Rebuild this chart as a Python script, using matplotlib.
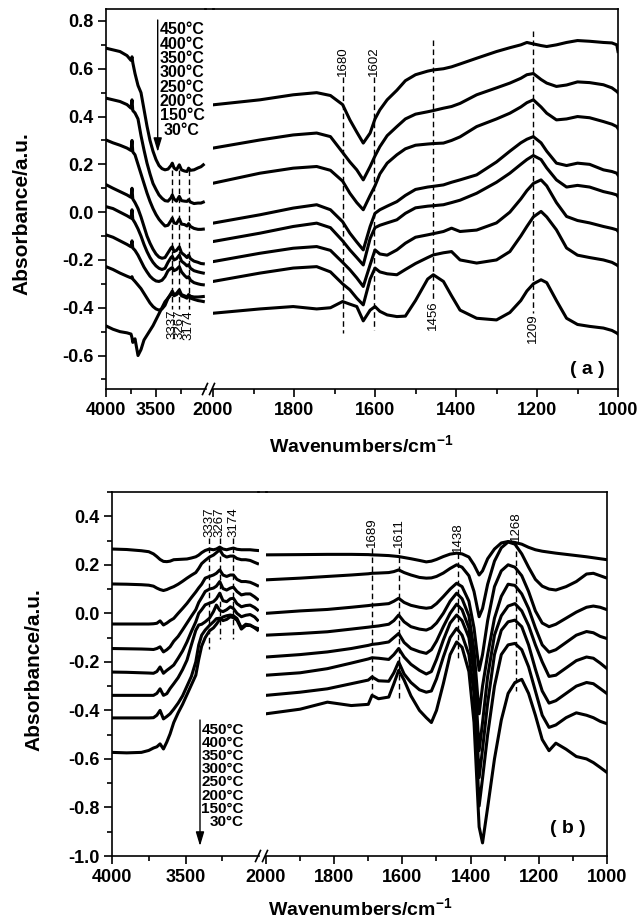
import matplotlib
matplotlib.use('Agg')
from matplotlib import pyplot as plt
from matplotlib.lines import Line2D
from matplotlib.patches import FancyArrowPatch
from matplotlib.ticker import MultipleLocator, FixedLocator, FormatStrFormatter

plt.rcParams['font.family'] = ['Liberation Sans', 'DejaVu Sans']
plt.rcParams['font.weight'] = 'bold'
plt.rcParams['axes.unicode_minus'] = False
plt.rcParams['mathtext.fontset'] = 'custom'
plt.rcParams['mathtext.rm'] = 'Liberation Sans:bold'
plt.rcParams['mathtext.default'] = 'rm'

temps = ['450', '400', '350', '300', '250', '200', '150', '30']

# ---------------- panel (a) ----------------
a_hi_wn = [4000, 3930, 3860, 3790, 3750, 3740, 3732, 3710, 3680, 3650, 3620, 3590, 3560,
           3530, 3500, 3470, 3440, 3410, 3380, 3350, 3337, 3320, 3295, 3267, 3245, 3215,
           3190, 3174, 3155, 3120, 3080, 3050, 3027]
a_hi = [
    [0.686, 0.679, 0.672, 0.655, 0.635, 0.650, 0.625, 0.58, 0.53, 0.50, 0.43, 0.36, 0.30,
     0.255, 0.22, 0.195, 0.182, 0.177, 0.180, 0.195, 0.205, 0.185, 0.177, 0.198, 0.177, 0.172,
     0.170, 0.184, 0.175, 0.177, 0.185, 0.19, 0.198],
    [0.477, 0.470, 0.463, 0.450, 0.435, 0.470, 0.425, 0.415, 0.39, 0.32, 0.26, 0.205, 0.16,
     0.12, 0.095, 0.072, 0.058, 0.048, 0.046, 0.06, 0.072, 0.055, 0.046, 0.066, 0.048, 0.046,
     0.045, 0.052, 0.042, 0.036, 0.038, 0.038, 0.042],
    [0.302, 0.29, 0.28, 0.268, 0.258, 0.30, 0.252, 0.24, 0.20, 0.16, 0.12, 0.08, 0.045,
     0.015, -0.01, -0.03, -0.045, -0.058, -0.055, -0.035, -0.025, -0.045, -0.048, -0.028, -0.05, -0.052,
     -0.058, -0.048, -0.06, -0.068, -0.072, -0.072, -0.071],
    [0.115, 0.10, 0.086, 0.072, 0.062, 0.10, 0.055, 0.04, 0.015, -0.02, -0.06, -0.10, -0.13,
     -0.155, -0.175, -0.188, -0.193, -0.19, -0.17, -0.15, -0.145, -0.165, -0.16, -0.145, -0.17, -0.18,
     -0.19, -0.18, -0.195, -0.205, -0.21, -0.215, -0.216],
    [0.023, 0.015, 0.0, -0.015, -0.025, 0.01, -0.03, -0.045, -0.07, -0.10, -0.135, -0.165, -0.19,
     -0.21, -0.225, -0.235, -0.24, -0.235, -0.21, -0.19, -0.185, -0.2, -0.195, -0.18, -0.205, -0.215,
     -0.225, -0.22, -0.235, -0.245, -0.25, -0.253, -0.255],
    [-0.095, -0.105, -0.12, -0.135, -0.145, -0.12, -0.15, -0.16, -0.18, -0.205, -0.23, -0.25, -0.268,
     -0.28, -0.288, -0.29, -0.285, -0.27, -0.245, -0.235, -0.232, -0.245, -0.24, -0.228, -0.25, -0.265,
     -0.275, -0.27, -0.285, -0.295, -0.30, -0.303, -0.304],
    [-0.228, -0.24, -0.255, -0.268, -0.275, -0.27, -0.28, -0.29, -0.305, -0.32, -0.34, -0.36, -0.38,
     -0.395, -0.405, -0.41, -0.405, -0.39, -0.36, -0.34, -0.33, -0.345, -0.34, -0.325, -0.345, -0.35,
     -0.355, -0.345, -0.352, -0.355, -0.355, -0.354, -0.353],
    [-0.476, -0.49, -0.50, -0.505, -0.51, -0.525, -0.545, -0.53, -0.60, -0.575, -0.535, -0.515, -0.495,
     -0.475, -0.45, -0.425, -0.40, -0.375, -0.36, -0.345, -0.34, -0.35, -0.345, -0.335, -0.35, -0.355,
     -0.36, -0.35, -0.36, -0.365, -0.37, -0.372, -0.374],
]

a_lo_wn = [2000, 1884, 1802, 1744, 1710, 1680, 1662, 1645, 1629, 1612, 1600, 1588, 1570,
           1546, 1525, 1500, 1470, 1456, 1431, 1411, 1390, 1349, 1300, 1267, 1240, 1225,
           1209, 1190, 1176, 1152, 1127, 1100, 1070, 1036, 1015, 1003, 1000]
a_lo = [
    [0.449, 0.47, 0.491, 0.50, 0.488, 0.45, 0.386, 0.335, 0.289, 0.331, 0.39, 0.428, 0.47,
     0.51, 0.55, 0.575, 0.59, 0.595, 0.60, 0.608, 0.62, 0.644, 0.672, 0.688, 0.70, 0.71,
     0.704, 0.697, 0.693, 0.70, 0.71, 0.718, 0.715, 0.71, 0.708, 0.70, 0.672],
    [0.268, 0.302, 0.323, 0.331, 0.316, 0.25, 0.21, 0.177, 0.135, 0.191, 0.235, 0.274, 0.32,
     0.358, 0.39, 0.41, 0.42, 0.425, 0.435, 0.442, 0.455, 0.491, 0.52, 0.54, 0.56, 0.575,
     0.58, 0.555, 0.54, 0.526, 0.532, 0.545, 0.542, 0.533, 0.52, 0.505, 0.50],
    [0.121, 0.163, 0.184, 0.191, 0.175, 0.13, 0.079, 0.04, 0.010, 0.07, 0.11, 0.16, 0.205,
     0.24, 0.265, 0.28, 0.285, 0.287, 0.289, 0.30, 0.315, 0.358, 0.39, 0.414, 0.44, 0.458,
     0.47, 0.44, 0.414, 0.386, 0.39, 0.40, 0.395, 0.379, 0.368, 0.358, 0.35],
    [-0.046, -0.011, 0.017, 0.031, 0.01, -0.04, -0.088, -0.125, -0.158, -0.06, -0.005, 0.01, 0.025,
     0.044, 0.07, 0.095, 0.105, 0.108, 0.114, 0.125, 0.135, 0.156, 0.21, 0.255, 0.29, 0.305,
     0.316, 0.29, 0.255, 0.205, 0.195, 0.205, 0.20, 0.177, 0.17, 0.163, 0.155],
    [-0.123, -0.088, -0.060, -0.046, -0.065, -0.12, -0.158, -0.19, -0.221, -0.11, -0.065, -0.055, -0.045,
     -0.032, -0.005, 0.018, 0.025, 0.027, 0.031, 0.04, 0.05, 0.079, 0.125, 0.163, 0.20, 0.22,
     0.237, 0.22, 0.185, 0.135, 0.105, 0.112, 0.105, 0.086, 0.078, 0.072, 0.065],
    [-0.207, -0.172, -0.151, -0.144, -0.16, -0.21, -0.241, -0.275, -0.311, -0.22, -0.158, -0.175, -0.18,
     -0.158, -0.13, -0.105, -0.095, -0.09, -0.081, -0.067, -0.081, -0.075, -0.045, 0.0, 0.055, 0.09,
     0.12, 0.135, 0.11, 0.04, -0.018, -0.035, -0.045, -0.06, -0.068, -0.074, -0.08],
    [-0.290, -0.255, -0.234, -0.228, -0.25, -0.30, -0.325, -0.36, -0.388, -0.28, -0.234, -0.25, -0.258,
     -0.262, -0.24, -0.215, -0.19, -0.179, -0.17, -0.165, -0.2, -0.213, -0.2, -0.165, -0.10, -0.06,
     -0.02, 0.003, -0.02, -0.074, -0.15, -0.18, -0.19, -0.20, -0.21, -0.221, -0.225],
    [-0.423, -0.405, -0.395, -0.405, -0.40, -0.374, -0.385, -0.395, -0.455, -0.41, -0.395, -0.415, -0.43,
     -0.437, -0.435, -0.37, -0.28, -0.262, -0.29, -0.35, -0.41, -0.444, -0.451, -0.42, -0.37, -0.33,
     -0.30, -0.283, -0.295, -0.37, -0.444, -0.47, -0.478, -0.485, -0.495, -0.506, -0.51],
]

# ---------------- panel (b) ----------------
b_hi_wn = [4000, 3900, 3800, 3750, 3718, 3695, 3673, 3650, 3627, 3605, 3580, 3550, 3520,
           3490, 3460, 3430, 3410, 3390, 3366, 3337, 3310, 3290, 3267, 3245, 3220, 3195,
           3174, 3150, 3120, 3090, 3060, 3030, 3010]
b_hi = [
    [0.265, 0.263, 0.258, 0.254, 0.245, 0.234, 0.222, 0.214, 0.213, 0.215, 0.221, 0.222, 0.223,
     0.224, 0.228, 0.233, 0.24, 0.25, 0.259, 0.265, 0.262, 0.265, 0.273, 0.265, 0.262, 0.266,
     0.269, 0.264, 0.262, 0.262, 0.262, 0.26, 0.259],
    [0.121, 0.12, 0.118, 0.116, 0.112, 0.104, 0.098, 0.094, 0.098, 0.104, 0.110, 0.12, 0.132,
     0.145, 0.157, 0.168, 0.185, 0.205, 0.218, 0.232, 0.24, 0.25, 0.262, 0.24, 0.232, 0.236,
     0.236, 0.226, 0.221, 0.221, 0.218, 0.21, 0.205],
    [-0.044, -0.044, -0.044, -0.044, -0.043, -0.041, -0.031, -0.048, -0.04, -0.03, -0.021, 0.0, 0.02,
     0.041, 0.065, 0.088, 0.105, 0.12, 0.145, 0.152, 0.158, 0.165, 0.179, 0.158, 0.152, 0.158,
     0.158, 0.14, 0.131, 0.131, 0.128, 0.12, 0.114],
    [-0.145, -0.146, -0.147, -0.148, -0.149, -0.145, -0.138, -0.159, -0.15, -0.138, -0.115, -0.095, -0.068,
     -0.04, -0.012, 0.015, 0.045, 0.065, 0.09, 0.10, 0.104, 0.112, 0.131, 0.102, 0.096, 0.104,
     0.108, 0.09, 0.076, 0.08, 0.08, 0.068, 0.058],
    [-0.242, -0.243, -0.245, -0.246, -0.247, -0.24, -0.221, -0.247, -0.235, -0.225, -0.213, -0.185, -0.155,
     -0.118, -0.075, -0.035, 0.0, 0.015, 0.035, 0.042, 0.048, 0.06, 0.083, 0.052, 0.048, 0.06,
     0.062, 0.04, 0.027, 0.032, 0.034, 0.024, 0.014],
    [-0.338, -0.338, -0.338, -0.338, -0.338, -0.33, -0.311, -0.338, -0.331, -0.31, -0.29, -0.265, -0.232,
     -0.193, -0.13, -0.07, -0.048, -0.045, -0.035, -0.02, 0.007, 0.034, 0.012, 0.007, 0.015, 0.027,
     0.02, 0.0, -0.014, -0.008, -0.005, -0.015, -0.028],
    [-0.431, -0.431, -0.431, -0.431, -0.43, -0.42, -0.40, -0.435, -0.425, -0.414, -0.395, -0.37, -0.34,
     -0.30, -0.26, -0.20, -0.13, -0.09, -0.069, -0.05, -0.035, -0.022, -0.02, -0.03, -0.025, -0.014,
     -0.018, -0.028, -0.065, -0.05, -0.05, -0.058, -0.062],
    [-0.573, -0.575, -0.573, -0.565, -0.555, -0.55, -0.538, -0.559, -0.53, -0.497, -0.45, -0.41, -0.375,
     -0.335, -0.295, -0.255, -0.19, -0.135, -0.10, -0.072, -0.06, -0.045, -0.025, -0.015, -0.01, -0.007,
     -0.01, -0.021, -0.06, -0.045, -0.048, -0.06, -0.069],
]

b_lo_wn = [2000, 1900, 1820, 1750, 1700, 1689, 1670, 1640, 1625, 1611, 1595, 1575, 1550, 1530,
           1515, 1500, 1480, 1460, 1441, 1425, 1405, 1390, 1375, 1365, 1350, 1330, 1310, 1290,
           1270, 1250, 1230, 1210, 1190, 1170, 1150, 1120, 1090, 1060, 1040, 1020, 1000]
b_lo = [
    [0.241, 0.242, 0.243, 0.243, 0.242, 0.241, 0.240, 0.238, 0.236, 0.234, 0.23, 0.225, 0.218, 0.212,
     0.215, 0.222, 0.234, 0.244, 0.248, 0.245, 0.232, 0.20, 0.158, 0.175, 0.225, 0.265, 0.29, 0.296,
     0.292, 0.285, 0.272, 0.262, 0.256, 0.252, 0.248, 0.243, 0.238, 0.233, 0.229, 0.225, 0.221],
    [0.138, 0.145, 0.152, 0.158, 0.163, 0.165, 0.166, 0.168, 0.172, 0.179, 0.168, 0.158, 0.148, 0.145,
     0.146, 0.152, 0.166, 0.185, 0.20, 0.19, 0.155, 0.09, -0.014, 0.02, 0.12, 0.215, 0.27, 0.294,
     0.285, 0.245, 0.19, 0.14, 0.112, 0.10, 0.096, 0.11, 0.131, 0.162, 0.165, 0.155, 0.145],
    [0.0, 0.01, 0.016, 0.025, 0.032, 0.034, 0.036, 0.04, 0.05, 0.062, 0.045, 0.033, 0.025, 0.021,
     0.024, 0.04, 0.069, 0.10, 0.124, 0.11, 0.05, -0.06, -0.235, -0.17, -0.03, 0.11, 0.175, 0.20,
     0.19, 0.155, 0.09, 0.01, -0.04, -0.055, -0.045, -0.02, 0.005, 0.025, 0.03, 0.025, 0.015],
    [-0.090, -0.083, -0.076, -0.065, -0.057, -0.055, -0.052, -0.045, -0.03, -0.007, -0.035, -0.055, -0.065, -0.069,
     -0.06, -0.04, 0.0, 0.05, 0.083, 0.06, -0.01, -0.15, -0.414, -0.30, -0.17, -0.02, 0.07, 0.12,
     0.115, 0.08, 0.02, -0.06, -0.13, -0.16, -0.15, -0.12, -0.09, -0.075, -0.08, -0.095, -0.104],
    [-0.180, -0.17, -0.159, -0.145, -0.132, -0.128, -0.125, -0.118, -0.10, -0.083, -0.12, -0.145, -0.158, -0.165,
     -0.15, -0.115, -0.055, 0.0, 0.038, 0.015, -0.06, -0.2, -0.566, -0.45, -0.26, -0.09, -0.01, 0.03,
     0.04, 0.01, -0.05, -0.13, -0.2, -0.26, -0.255, -0.225, -0.195, -0.18, -0.185, -0.205, -0.228],
    [-0.255, -0.245, -0.228, -0.205, -0.188, -0.183, -0.185, -0.19, -0.17, -0.145, -0.18, -0.21, -0.235, -0.25,
     -0.24, -0.19, -0.11, -0.04, -0.007, -0.03, -0.1, -0.25, -0.677, -0.56, -0.37, -0.17, -0.07, -0.035,
     -0.028, -0.055, -0.13, -0.23, -0.32, -0.37, -0.36, -0.33, -0.30, -0.285, -0.29, -0.31, -0.331],
    [-0.338, -0.325, -0.311, -0.29, -0.275, -0.262, -0.278, -0.28, -0.245, -0.20, -0.25, -0.285, -0.315, -0.325,
     -0.32, -0.27, -0.18, -0.10, -0.062, -0.09, -0.17, -0.33, -0.794, -0.68, -0.50, -0.30, -0.17, -0.13,
     -0.124, -0.15, -0.22, -0.32, -0.42, -0.47, -0.46, -0.43, -0.41, -0.42, -0.43, -0.445, -0.455],
    [-0.414, -0.395, -0.366, -0.38, -0.375, -0.338, -0.352, -0.345, -0.29, -0.235, -0.275, -0.34, -0.40, -0.43,
     -0.45, -0.40, -0.29, -0.17, -0.118, -0.14, -0.24, -0.45, -0.88, -0.946, -0.80, -0.60, -0.44, -0.33,
     -0.285, -0.272, -0.33, -0.42, -0.52, -0.566, -0.535, -0.56, -0.59, -0.60, -0.615, -0.635, -0.656],
]

# marked bands: wavenumber, dashed line from, to, label above (True) / below (False)
a_hi_marks = [(3337, 0.175, -0.405, False), (3267, 0.175, -0.405, False), (3174, 0.175, -0.405, False)]
a_lo_marks = [(1680, 0.567, -0.506, True), (1602, 0.567, -0.492, True),
              (1456, 0.721, -0.367, False), (1209, 0.756, -0.42, False)]
b_hi_marks = [(3337, 0.31, -0.145, True), (3267, 0.31, -0.104, True), (3174, 0.31, -0.104, True)]
b_lo_marks = [(1689, 0.27, -0.33, True), (1611, 0.27, -0.351, True),
              (1438, 0.25, -0.193, True), (1268, 0.295, -0.318, True)]

W, H = 640, 922
fig = plt.figure(figsize=(W / 100, H / 100), dpi=100)


def fx(px):
    return px / W


def fy(py):
    return 1 - py / H


def make_panel(x_l, x_mid_l, x_mid_r, x_r, y_top, y_bot, ylim):
    rect_l = [fx(x_l), fy(y_bot), (x_mid_l - x_l) / W, (y_bot - y_top) / H]
    rect_r = [fx(x_mid_r), fy(y_bot), (x_r - x_mid_r) / W, (y_bot - y_top) / H]
    axl = fig.add_axes(rect_l)
    axr = fig.add_axes(rect_r)
    axl.set_xlim(4000, 3000)
    axr.set_xlim(2000, 1000)
    for ax in (axl, axr):
        ax.set_ylim(*ylim)
        ax.tick_params(which='both', direction='out', width=1.2, labelsize=13, pad=3)
        ax.tick_params(which='major', length=6)
        ax.tick_params(which='minor', length=3.5)
        for s in ax.spines.values():
            s.set_linewidth(1.2)
    axl.spines['right'].set_visible(False)
    axr.spines['left'].set_visible(False)
    axr.tick_params(which='both', left=False, labelleft=False)
    axl.xaxis.set_major_locator(FixedLocator([4000, 3500]))
    axl.xaxis.set_minor_locator(FixedLocator([3750, 3250]))
    axr.xaxis.set_major_locator(MultipleLocator(200))
    axr.xaxis.set_minor_locator(MultipleLocator(100))
    axl.yaxis.set_major_locator(MultipleLocator(0.2))
    axl.yaxis.set_minor_locator(MultipleLocator(0.1))
    axl.yaxis.set_major_formatter(FormatStrFormatter('%.1f'))
    # continuous top frame and // marks on the bottom axis
    fig.add_artist(Line2D([fx(x_mid_l - 1), fx(x_mid_r + 1)], [fy(y_top), fy(y_top)],
                          transform=fig.transFigure, color='k', lw=1.2))
    for xc in (x_mid_l - 1, x_mid_r - 1):
        fig.add_artist(Line2D([fx(xc - 2.5), fx(xc + 2.5)], [fy(y_bot + 5.5), fy(y_bot - 5.5)],
                              transform=fig.transFigure, color='k', lw=1.2))
    return axl, axr


def draw(ax, wn, curves, marks):
    for vals in curves:
        ax.plot(wn, vals, color='black', lw=2.2, solid_joinstyle='round')
    for w, y0, y1, above in marks:
        ax.plot([w, w], [y0, y1], color='black', lw=1.0, ls=(0, (4, 2.5)))
        if above:
            ax.text(w, y0 + 0.004, str(w), rotation=90, ha='center', va='bottom',
                    fontsize=9.5, fontweight='normal')
        else:
            ax.text(w, y1 - 0.004, str(w), rotation=90, ha='center', va='top',
                    fontsize=9.5, fontweight='normal')


def arrow(x, y0, y1):
    fig.add_artist(FancyArrowPatch((fx(x), fy(y0)), (fx(x), fy(y1)), transform=fig.transFigure,
                                   arrowstyle='-|>,head_length=0.6,head_width=0.18',
                                   mutation_scale=14, lw=1.0, color='black',
                                   shrinkA=0, shrinkB=0))


# panel (a)
axl, axr = make_panel(106, 206, 213, 618, 9, 389, (-0.74, 0.85))
draw(axl, a_hi_wn, a_hi, a_hi_marks)
draw(axr, a_lo_wn, a_lo, a_lo_marks)
arrow(157.7, 20, 152)
for i, t in enumerate(temps):
    fig.text(fx(182), fy(22.5 + i * 14.3), t + '°C', ha='center', va='top', fontsize=11.5)
fig.text(fx(587), fy(370), '( a )', ha='center', va='center', fontsize=14)
fig.text(fx(22), fy(214), 'Absorbance/a.u.', rotation=90, ha='center', va='center', fontsize=15)
fig.text(fx(361), fy(445), 'Wavenumbers/cm$^{-1}$', ha='center', va='center', fontsize=14)

# panel (b)
bxl, bxr = make_panel(112, 259, 266, 607, 492, 856, (-1.0, 0.5))
draw(bxl, b_hi_wn, b_hi, b_hi_marks)
draw(bxr, b_lo_wn, b_lo, b_lo_marks)
arrow(200, 720, 846)
for i, t in enumerate(temps):
    fig.text(fx(244), fy(723 + i * 13.1), t + '°C', ha='right', va='top', fontsize=11)
fig.text(fx(568), fy(828), '( b )', ha='center', va='center', fontsize=14)
fig.text(fx(34), fy(670), 'Absorbance/a.u.', rotation=90, ha='center', va='center', fontsize=15)
fig.text(fx(360), fy(908), 'Wavenumbers/cm$^{-1}$', ha='center', va='center', fontsize=14)

fig.savefig('out.png', dpi=100)
